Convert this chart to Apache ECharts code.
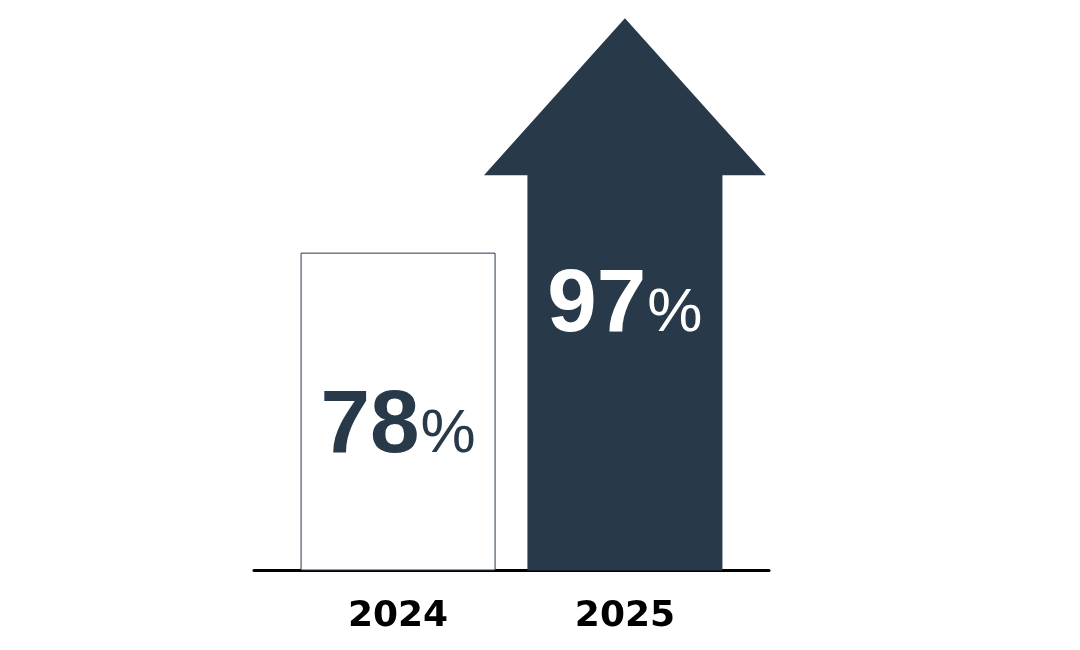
<!DOCTYPE html>
<html><head><meta charset="utf-8">
<script src="https://cdn.jsdelivr.net/npm/echarts@6/dist/echarts.min.js"></script>
<style>html,body{margin:0;padding:0;background:#fff}#c{width:1080px;height:650px}</style>
</head><body><div id="c"></div>
<script>
const categories = ['2024', '2025'];
const values = [78, 97];
const labels = ['78', '97'];

const NAVY = '#28394a';
const FONT = '"Liberation Sans", Arial, sans-serif';
const richStyles = function (color) {
  return {
    n: { fontSize: 89, fontWeight: 'bold', fontFamily: FONT, color: color, fill: color, lineHeight: 100, verticalAlign: 'bottom' },
    p: { fontSize: 62, fontWeight: 'normal', fontFamily: FONT, color: color, fill: color, lineHeight: 100, verticalAlign: 'bottom', padding: [0, 0, 6, 1] }
  };
};

const chart = echarts.init(document.getElementById('c'), null, { renderer: 'canvas' });
chart.setOption({
  animation: false,
  backgroundColor: '#ffffff',
  grid: { left: 254, right: 311, top: 0, bottom: 79.5, containLabel: false },
  xAxis: {
    type: 'value', min: -0.635, max: 1.635,
    splitLine: { show: false },
    axisTick: { show: false },
    axisLine: { show: true, lineStyle: { color: '#000', width: 3 } },
    axisLabel: {
      customValues: [0, 1],
      formatter: function (v) { return categories[Math.round(v)]; },
      fontFamily: '"DejaVu Sans", sans-serif', fontWeight: 'bold', fontSize: 36, color: '#000',
      margin: 28
    }
  },
  yAxis: { type: 'value', min: 0, max: 140, show: false },
  series: [
    {
      type: 'bar',
      barWidth: 195,
      data: [[0, values[0]]],
      itemStyle: { color: '#ffffff', borderColor: NAVY, borderWidth: 1 },
      label: {
        show: true,
        position: ['50%', 119],
        align: 'center',
        verticalAlign: 'top',
        formatter: '{n|' + labels[0] + '}{p|%}',
        rich: richStyles(NAVY)
      },
      z: 3
    },
    {
      type: 'custom',
      data: [[1, values[1]]],
      renderItem: function (params, api) {
        const x = api.value(0), v = api.value(1);
        const base = api.coord([x, 0]);
        const top = api.coord([x, v]);
        const halfW = 97.5, headHalf = 141, headH = 157;
        const cx = base[0];
        return {
          type: 'group',
          children: [
            {
              type: 'polygon',
              shape: { points: [
                [cx - halfW, base[1]], [cx - halfW, top[1]], [cx - headHalf, top[1]],
                [cx, top[1] - headH],
                [cx + headHalf, top[1]], [cx + halfW, top[1]], [cx + halfW, base[1]]
              ] },
              style: { fill: NAVY }
            },
            {
              type: 'text',
              x: cx, y: top[1] + 76,
              style: {
                text: '{n|' + labels[1] + '}{p|%}',
                fill: '#ffffff',
                align: 'center', verticalAlign: 'top',
                rich: richStyles('#ffffff')
              }
            }
          ]
        };
      },
      z: 3
    }
  ]
});
</script>
</body></html>
